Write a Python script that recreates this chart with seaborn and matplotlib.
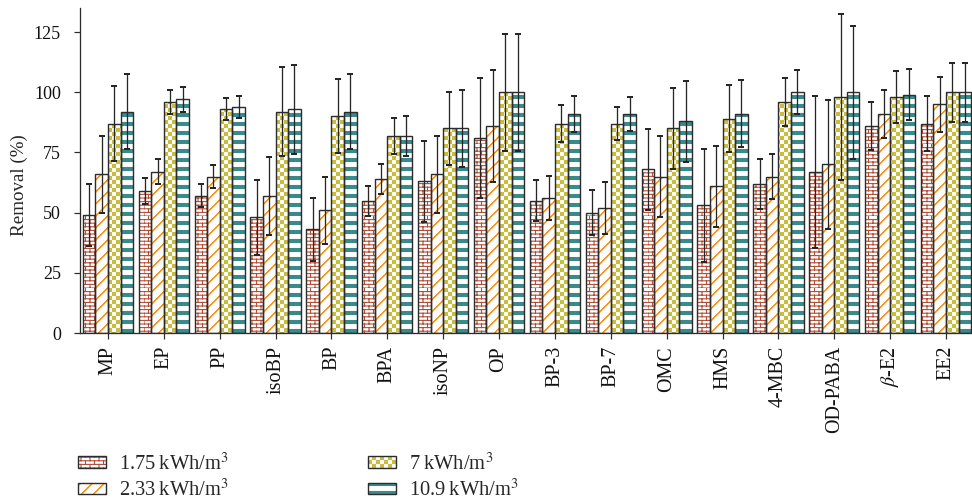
import warnings
warnings.filterwarnings('ignore')
import numpy as np
import pandas as pd
import matplotlib
matplotlib.use('Agg')
import matplotlib.pyplot as plt
import matplotlib.hatch as mhatch
from matplotlib.path import Path
import seaborn as sns

# ---------------- data ----------------
compounds = ['MP', 'EP', 'PP', 'isoBP', 'BP', 'BPA', 'isoNP', 'OP', 'BP-3', 'BP-7',
             'OMC', 'HMS', '4-MBC', 'OD-PABA', r'$\beta$-E2', 'EE2']
energies = ['1.75\u2009kWh/m$^3$', '2.33\u2009kWh/m$^3$', '7\u2009kWh/m$^3$', '10.9\u2009kWh/m$^3$']

r175 = [49, 59, 57, 48, 43, 55, 63, 81, 55, 50, 68, 53, 62, 67, 86, 87]
e175 = [13, 5.5, 4.7, 15.5, 13, 6.2, 16.7, 25, 8.4, 9.2, 16.7, 23.5, 10.3, 31.5, 10, 11.5]
r233 = [66, 67, 65, 57, 51, 64, 66, 86, 56, 52, 65, 61, 65, 70, 91, 95]
e233 = [16, 5.3, 4.7, 16.2, 14, 6.2, 16, 23.4, 9.2, 10.8, 16.7, 16.8, 9.3, 26.9, 9.9, 11.4]
r7 = [87, 96, 93, 92, 90, 82, 85, 100, 87, 87, 85, 89, 96, 98, 98, 100]
e7 = [15.5, 5, 4.7, 18.4, 15.4, 7.5, 15.2, 24.3, 7.7, 7, 16.8, 14, 10, 34.6, 10.7, 12.2]
r109 = [92, 97, 94, 93, 92, 82, 85, 100, 91, 91, 88, 91, 100, 100, 99, 100]
e109 = [15.4, 5, 4.6, 18.5, 15.4, 8.3, 16, 24.3, 7.6, 7, 16.8, 13.9, 9.2, 27.7, 10.7, 12.2]

yticks = [0, 25, 50, 75, 100, 125]

removals = [r175, r233, r7, r109]
errors = [e175, e233, e7, e109]

# ---------------- custom hatch patterns ----------------
PX = 1.0 / 72.0  # one pixel in hatch-unit coordinates (dpi = 72)
RECT_CODES = [Path.MOVETO, Path.LINETO, Path.LINETO, Path.LINETO, Path.CLOSEPOLY]


class CheckerHatch(mhatch.HatchPatternBase):
    N = 18

    def __init__(self, hatch, density):
        self.on = 'c' in hatch
        n = self.N
        self.num_vertices = (n * n // 2) * 5 if self.on else 0

    def set_vertices_and_codes(self, vertices, codes):
        n = self.N
        s = 1.0 / n
        ins = 0.5 * PX
        verts = []
        for i in range(n):
            for j in range(n):
                if (i + j) % 2 == 0:
                    x0, y0 = i * s + ins, j * s + ins
                    x1, y1 = (i + 1) * s - ins, (j + 1) * s - ins
                    verts.extend([(x0, y0), (x1, y0), (x1, y1), (x0, y1), (x0, y0)])
        vertices[:] = np.array(verts)
        codes[:] = np.tile(RECT_CODES, n * n // 2)


class StripeHatch(mhatch.HatchPatternBase):
    N = 8

    def __init__(self, hatch, density):
        self.on = 's' in hatch
        self.num_vertices = self.N * 5 if self.on else 0

    def set_vertices_and_codes(self, vertices, codes):
        n = self.N
        s = 1.0 / n
        h = 4.0 * PX
        verts = []
        for j in range(n):
            y0 = j * s + 0.5 * PX
            y1 = j * s + h - 0.5 * PX
            verts.extend([(0, y0), (1, y0), (1, y1), (0, y1), (0, y0)])
        vertices[:] = np.array(verts)
        codes[:] = np.tile(RECT_CODES, n)


class DiagHatch(mhatch.HatchPatternBase):
    N = 6
    OFFS = (0.0, 0.45 * PX)

    def __init__(self, hatch, density):
        self.on = 'd' in hatch
        self.num_vertices = (2 * self.N + 1) * 2 * len(self.OFFS) if self.on else 0

    def set_vertices_and_codes(self, vertices, codes):
        n = self.N
        verts = []
        for off in self.OFFS:
            for k in range(-n, n + 1):
                b = k / n + off
                verts.extend([(0.0, b), (1.0, 1.0 + b)])
        vertices[:] = np.array(verts)
        codes[0::2] = Path.MOVETO
        codes[1::2] = Path.LINETO


class BrickHatch(mhatch.HatchPatternBase):
    R = 20
    C = 8

    def __init__(self, hatch, density):
        self.on = 'b' in hatch
        self.num_vertices = (self.R * 2 + self.R * self.C * 2) if self.on else 0

    def set_vertices_and_codes(self, vertices, codes):
        R, C = self.R, self.C
        verts = []
        for r in range(R):
            y = r / R
            verts.extend([(0, y), (1, y)])
        for r in range(R):
            y0, y1 = r / R, (r + 1) / R
            for c in range(C):
                x = (c + 0.5 * (r % 2)) / C
                verts.extend([(x, y0), (x, y1)])
        vertices[:] = np.array(verts)
        codes[0::2] = Path.MOVETO
        codes[1::2] = Path.LINETO


mhatch._hatch_types.extend([CheckerHatch, StripeHatch, DiagHatch, BrickHatch])

# ---------------- style ----------------
sns.set_style('ticks')
plt.rcParams['font.family'] = ['Liberation Serif', 'DejaVu Serif']
plt.rcParams['mathtext.fontset'] = 'stix'
plt.rcParams['hatch.linewidth'] = 1.1

hatches = ['b', 'd', 'c', 's']
hatch_colors = ['#b24e37', '#f7961f', '#c9bc43', '#3a8a8b']
edge_dark = '#2c2c2c'

df = pd.DataFrame({
    'compound': [c for _ in energies for c in compounds],
    'energy': [e for e in energies for _ in compounds],
    'removal': [v for r in removals for v in r],
})

fig = plt.figure(figsize=(972 / 72, 500 / 72), dpi=72)
ax = fig.add_axes([80 / 972, 167 / 500, 894 / 972, 325 / 500])

sns.barplot(data=df, x='compound', y='removal', hue='energy', order=compounds,
            hue_order=energies, palette=['white'] * 4, width=0.9, errorbar=None,
            legend=False, ax=ax)
fill_conts = list(ax.containers)
sns.barplot(data=df, x='compound', y='removal', hue='energy', order=compounds,
            hue_order=energies, palette=['white'] * 4, width=0.9, errorbar=None,
            legend=False, fill=False, ax=ax)
line_conts = list(ax.containers)[len(fill_conts):]

for cont, h, c in zip(fill_conts, hatches, hatch_colors):
    for p in cont:
        p.set_facecolor('white')
        p.set_hatch(h)
        p.set_edgecolor(c)
        p.set_linewidth(0)
for cont in line_conts:
    for p in cont:
        p.set_facecolor('none')
        p.set_edgecolor(edge_dark)
        p.set_linewidth(1.4)

for cont, r, e in zip(fill_conts, removals, errors):
    xs = [p.get_x() + p.get_width() / 2 for p in cont]
    ax.errorbar(xs, r, yerr=e, fmt='none', ecolor='#262626', elinewidth=1.3,
                capsize=3, capthick=2, zorder=5)

ax.set_xlim(-0.5, 15.5)
ax.set_ylim(0, 135)
ax.set_yticks(yticks)
ax.set_xlabel('')
ax.set_ylabel('Removal (%)', fontsize=19)
ax.yaxis.set_label_coords(-0.058, 0.455)
sns.despine(ax=ax)
for s in ['left', 'bottom']:
    ax.spines[s].set_color(edge_dark)
    ax.spines[s].set_linewidth(1.3)
ax.tick_params(axis='both', direction='out', length=6, width=1.2, color=edge_dark,
               labelsize=18, labelcolor='#111111')
ax.tick_params(axis='x', labelrotation=90, pad=7, labelsize=20)
ax.tick_params(axis='y', pad=13)

handles = [(f[0], l[0]) for f, l in zip(fill_conts, line_conts)]
fig.legend(handles, energies, loc='upper left', bbox_to_anchor=(78 / 972, 1 - 453 / 500),
           ncol=2, frameon=False, fontsize=20.5, handlelength=1.35, handleheight=0.5,
           handletextpad=0.65, columnspacing=6.8, labelspacing=0.25, borderaxespad=0,
           borderpad=0)

fig.savefig('out.png', dpi=72, facecolor='white')
